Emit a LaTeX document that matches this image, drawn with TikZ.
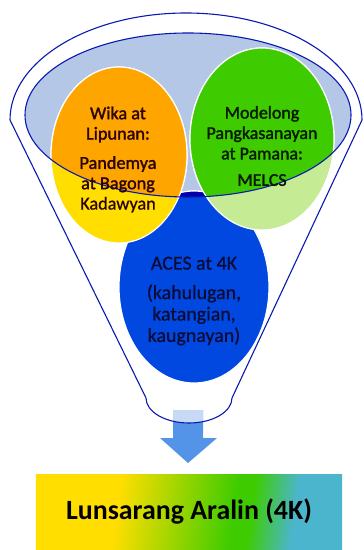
\documentclass[tikz,border=0pt]{standalone}
\usepackage{fontspec}
\setmainfont{Carlito}
\newfontfamily\heavyfont[FakeBold=1.6]{Carlito}
\newfontfamily\midfont[FakeBold=0.8]{Carlito}
\usetikzlibrary{shapes, calc, positioning}

\definecolor{rimblue}{RGB}{10,25,175}
\definecolor{mouthfill}{RGB}{180,199,231}
\definecolor{wikaout}{RGB}{255,222,0}
\definecolor{wikain}{RGB}{255,165,0}
\definecolor{modelout}{RGB}{197,235,148}
\definecolor{modelin}{RGB}{62,204,0}
\definecolor{acesout}{RGB}{0,72,224}
\definecolor{acesin}{RGB}{0,0,170}
\definecolor{acestext}{RGB}{12,12,55}
\definecolor{wikatext}{RGB}{45,5,0}
\definecolor{modeltext}{RGB}{5,25,0}
\definecolor{arrowblue}{RGB}{84,148,232}
\definecolor{arrowlight}{RGB}{198,218,245}
\definecolor{boxteal}{RGB}{75,181,206}
\pgfdeclarehorizontalshading{lunsarshade}{100bp}{color(0bp)=(wikaout); color(37bp)=(wikaout); color(58bp)=(modelin); color(61bp)=(modelin); color(69bp)=(boxteal); color(100bp)=(boxteal)}

\begin{document}
\begin{tikzpicture}[x=1bp, y=1bp, thick]
    \tikzset{
        rim/.style={draw=rimblue, line width=1.1pt},
        blob/.style={draw=white, line width=1.2pt},
        ctext/.style={align=center, inner sep=0pt},
        lunsarbox/.style={shading=lunsarshade, shading angle=-8, minimum width=306bp,
            minimum height=75bp, inner sep=0pt, font=\bfseries\fontsize{28}{30}\selectfont}
    }
    \useasboundingbox (0,0) rectangle (363,-550);

    % funnel body
    \path[save path=\funnelsaved] (10,-120)
        arc[start angle=180, end angle=0, x radius=176bp, y radius=107bp]
        -- (232,-398)
        arc[start angle=0, end angle=-180, x radius=43bp, y radius=25bp]
        -- cycle;
    \fill[white, use path=\funnelsaved];
    \fill[mouthfill] (188,-115) ellipse[x radius=163bp, y radius=82bp];

    % the three circles
    \fill[acesout, blob] (194,-287) ellipse[x radius=75bp, y radius=96bp];
    \fill[wikaout, blob] (119,-155) ellipse[x radius=68bp, y radius=88bp];
    \fill[modelout, blob] (262,-139) ellipse[x radius=72bp, y radius=91bp];
    \begin{scope}
        \clip (188,-115) ellipse[x radius=163bp, y radius=82bp];
        \fill[acesin, blob] (194,-287) ellipse[x radius=75bp, y radius=96bp];
        \fill[wikain, blob] (119,-155) ellipse[x radius=68bp, y radius=88bp];
        \fill[modelin, blob] (262,-139) ellipse[x radius=72bp, y radius=91bp];
    \end{scope}

    % arrow out of the funnel
    \fill[arrowblue] (173,-410) -- (203,-410) -- (203,-438) -- (217,-438)
        -- (188,-463) -- (160,-438) -- (173,-438) -- cycle;
    \begin{scope}
        \clip[use path=\funnelsaved];
        \fill[arrowlight] (173,-410) rectangle (203,-430);
    \end{scope}

    \draw[rim] (188,-115) ellipse[x radius=163bp, y radius=82bp];
    \draw[rim, use path=\funnelsaved];

    \node[ctext, font=\heavyfont\fontsize{18.3}{20.4}\selectfont, text=wikatext] (wika) at (118,-159.5)
        {Wika at\\Lipunan:\\[9bp]Pandemya\\at Bagong\\\midfont Kadawyan};
    \node[ctext, font=\heavyfont\fontsize{18}{20.5}\selectfont, text=modeltext] (modelo) at (262,-146)
        {Modelong\\Pangkasanayan\\at Pamana:\\[6bp]MELCS};
    \node[ctext, font=\midfont\fontsize{20}{21.5}\selectfont, text=acestext] (aces) at (194,-301)
        {ACES at 4K\\[8bp](kahulugan,\\katangian,\\kaugnayan)};

    \node[lunsarbox] (lunsar) at (189,-511.5) {\raisebox{-3bp}{Lunsarang Aralin (4K)}};
\end{tikzpicture}
\end{document}
